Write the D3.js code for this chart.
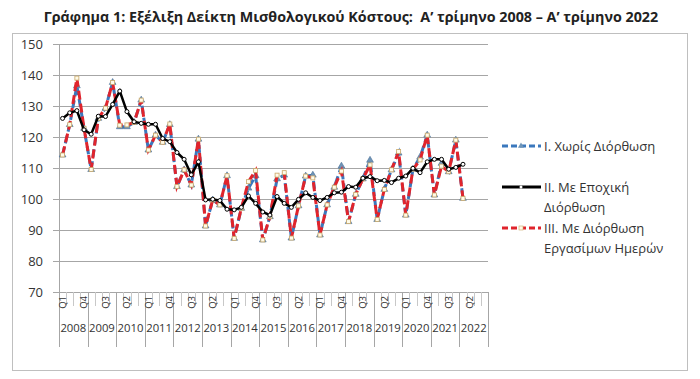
<!DOCTYPE html>
<html><head><meta charset="utf-8">
<script src="https://cdn.jsdelivr.net/npm/d3@7"></script>
<style>body{margin:0;background:#fff}svg{display:block}text{font-family:"Open Sans","Noto Sans",sans-serif}</style>
</head><body><div id="chart"></div>
<script>
const years = d3.range(2008, 2023).map(String);
const quarters = ["Q1","Q2","Q3","Q4"];
const seriesNames = ["I. Χωρίς Διόρθωση", "II. Με Εποχική Διόρθωση", "III. Με Διόρθωση Εργασίμων Ημερών"];
const yTicks = [70,80,90,100,110,120,130,140,150];
// Values 2008Q1 .. 2022Q1
const unadjusted = [114.2,124,136.5,122.8,109.5,126,129.3,137.6,123.3,123.3,124.7,131.9,115.8,120.6,118.3,124,
 104,109.4,104.5,119.3,91.3,99.7,98.1,107.5,87.3,97,103.5,107.5,86.8,94.3,106.5,107.7,87.4,97.8,107.4,107.7,
 88.4,98.1,103.8,110.6,92.7,101.5,106.5,112.5,93.4,103.1,109.4,114.8,94.8,109.6,113.5,120.6,101.3,111.5,108.8,119,100.2];
const seasonal = [126,127.8,128.5,122.3,120.9,126.7,126.6,130.5,134.8,128.2,124.9,124.4,124.1,124.1,119.5,118.5,
 115,112.8,107.8,112,99.7,99.9,99.5,96.7,96.5,97.3,101,98.6,95.8,94.8,100.8,98.6,97.3,99.9,102,100.5,
 99.5,100.5,102,102.2,104,103.8,106.7,107.2,105.9,106,105.3,106.7,107.4,109.9,108.5,112,112.8,112.8,109.6,110.2,111.2];
const workingDay = [114.2,124,139,122.8,109.5,126,129.3,137.6,123.8,123.9,124.7,131.9,115.8,120.6,118.3,124.2,
 104,109.4,104.5,119.3,91.3,99.7,98.1,107.5,87.3,97,105.6,109.2,86.8,94.3,107.7,108.5,87.4,97.8,107.4,106.8,
 88.4,98.1,103.8,109,92.7,101.5,106.5,111,93.4,103.1,109.4,115.3,94.8,109.6,112.6,120.6,101.3,110.6,108.8,119,100.2];

const W = 700, H = 379;
const svg = d3.select("#chart").append("svg").attr("width", W).attr("height", H);
svg.append("rect").attr("x", 12.5).attr("y", 33.5).attr("width", 675).attr("height", 337)
  .attr("fill", "#fff").attr("stroke", "#bfbfbf");
svg.append("text").attr("x", 351).attr("y", 22).attr("text-anchor", "middle")
  .style("white-space", "pre").attr("font-weight", "bold").attr("font-size", 14.3).attr("fill", "#222")
  .text("Γράφημα 1: Εξέλιξη Δείκτη Μισθολογικού Κόστους:  Α’ τρίμηνο 2008 – Α’ τρίμηνο 2022");

const cats = [];
years.forEach(y => quarters.forEach(q => cats.push(y + q)));
const x = d3.scaleBand().domain(cats).range([59, 488]).padding(0);
const y = d3.scaleLinear().domain([70, 150]).range([292, 44]);

// grid
const grid = svg.append("g").attr("transform", "translate(59,0)")
  .call(d3.axisLeft(y).tickValues(yTicks).tickSize(-(488 - 59)).tickFormat(""));
grid.select(".domain").remove();
grid.selectAll("line").attr("stroke", "#a6a6a6");

// y axis
const ya = svg.append("g").attr("transform", "translate(59,0)")
  .call(d3.axisLeft(y).tickValues(yTicks).tickSize(6).tickPadding(10));
ya.select(".domain").remove();
ya.selectAll("line").attr("stroke", "#a6a6a6");
ya.selectAll("text").attr("font-size", 13).attr("fill", "#333");
svg.append("line").attr("x1", 59.5).attr("x2", 59.5).attr("y1", 44).attr("y2", 292).attr("stroke", "#a6a6a6");

// x axis category boundaries
const xg = svg.append("g");
cats.forEach((c, i) => {
  const bx = Math.round(x(c)) + 0.5;
  const yearB = i % 4 === 0;
  xg.append("line").attr("x1", bx).attr("x2", bx).attr("y1", 292).attr("y2", yearB ? 347 : 306)
    .attr("stroke", yearB ? "#a6a6a6" : "#c8c8c8");
});
xg.append("line").attr("x1", 488.5).attr("x2", 488.5).attr("y1", 292).attr("y2", 347).attr("stroke", "#a6a6a6");
const xa = svg.append("g").attr("transform", "translate(0,292)")
  .call(d3.axisBottom(x).tickValues(cats.filter((c, i) => i % 3 === 0)).tickSize(0)
    .tickFormat(c => c.slice(4)));
xa.select(".domain").remove();
xa.selectAll("text").attr("transform", "rotate(-90)")
  .attr("x", -4).attr("y", 0).attr("dy", "0.35em").attr("text-anchor", "end")
  .attr("font-size", 9.5).attr("fill", "#333");
years.forEach(yr => {
  svg.append("text").attr("x", x(yr + "Q2") + x.bandwidth()).attr("y", 332)
    .attr("text-anchor", "middle").attr("font-size", 11.3).attr("fill", "#333").text(yr);
});

const idx = d3.range(workingDay.length);
const cx = i => x(cats[i]) + x.bandwidth() / 2;
const line = arr => d3.line().x(i => cx(i)).y(i => y(arr[i]))(idx);

// blue unadjusted
svg.append("path").attr("d", line(unadjusted)).attr("fill", "none").attr("stroke", "#3b78bd")
  .attr("stroke-width", 3).attr("stroke-dasharray", "8,4");
svg.append("g").selectAll("path").data(idx).join("path")
  .attr("d", d3.symbol(d3.symbolTriangle, 20)())
  .attr("transform", i => `translate(${cx(i)},${y(unadjusted[i])})`)
  .attr("fill", "#6f95b8").attr("stroke", "#4a6f95").attr("stroke-width", 0.6);
// red working-day adjusted
svg.append("path").attr("d", line(workingDay)).attr("fill", "none").attr("stroke", "#e0242c")
  .attr("stroke-width", 3).attr("stroke-dasharray", "9,4");
svg.append("g").selectAll("rect").data(idx).join("rect")
  .attr("x", i => cx(i) - 2).attr("y", i => y(workingDay[i]) - 2).attr("width", 4).attr("height", 4)
  .attr("fill", "#fffbe8").attr("stroke", "#c9a86a").attr("stroke-width", 0.8);
// black seasonal
svg.append("path").attr("d", line(seasonal)).attr("fill", "none").attr("stroke", "#000").attr("stroke-width", 2.5);
svg.append("g").selectAll("circle").data(idx).join("circle")
  .attr("cx", i => cx(i)).attr("cy", i => y(seasonal[i])).attr("r", 2)
  .attr("fill", "#fff").attr("stroke", "#000").attr("stroke-width", 1);

// legend
const lg = svg.append("g");
const items = [
  {lines: ["I. Χωρίς Διόρθωση"], y: 146, color: "#3b78bd", dash: "6,3", mk: "tri"},
  {lines: ["II. Με Εποχική", "Διόρθωση"], y: 187, color: "#000", dash: null, mk: "circ"},
  {lines: ["III. Με Διόρθωση", "Εργασίμων Ημερών"], y: 228, color: "#e0242c", dash: "6,3", mk: "sq"}
];
items.forEach(it => {
  lg.append("line").attr("x1", 502).attr("x2", 541).attr("y1", it.y).attr("y2", it.y)
    .attr("stroke", it.color).attr("stroke-width", 3).attr("stroke-dasharray", it.dash);
  if (it.mk === "tri") lg.append("path").attr("d", d3.symbol(d3.symbolTriangle, 16)())
    .attr("transform", `translate(521,${it.y})`).attr("fill", "#6f95b8");
  if (it.mk === "circ") lg.append("circle").attr("cx", 521).attr("cy", it.y).attr("r", 1.5).attr("fill", "#fff");
  if (it.mk === "sq") lg.append("rect").attr("x", 519).attr("y", it.y - 2).attr("width", 4).attr("height", 4)
    .attr("fill", "#fffbe8").attr("stroke", "#c9a86a").attr("stroke-width", 0.6);
  it.lines.forEach((t, k) => {
    lg.append("text").attr("x", 544).attr("y", it.y + k * 20).attr("dy", "0.35em")
      .attr("font-size", 13).attr("fill", "#333").text(t);
  });
});
</script></body></html>
